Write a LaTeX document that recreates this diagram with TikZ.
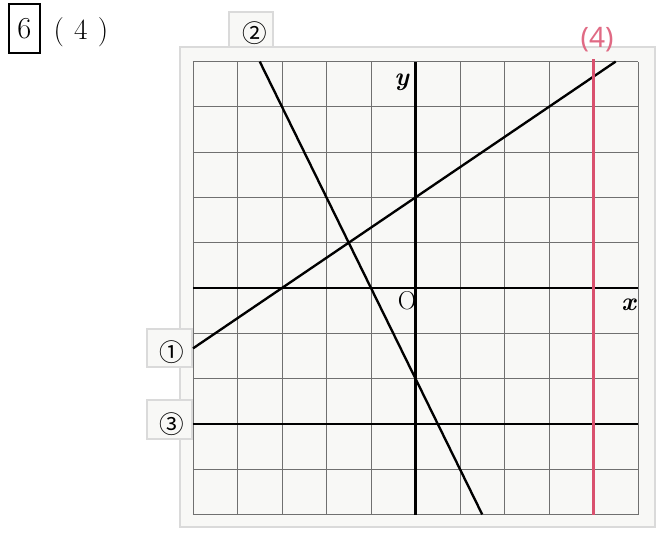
\documentclass[tikz,border=0pt]{standalone}
\usepackage{fontspec}
\newfontfamily\cjkfont{Noto Sans CJK JP}
\newfontfamily\handfont{Noto Sans}
\definecolor{gridline}{HTML}{707070}
\definecolor{framegray}{HTML}{DADADA}
\definecolor{paper}{HTML}{F8F8F6}
\definecolor{penred}{HTML}{D9506E}
\definecolor{penpink}{HTML}{E06A84}
\tikzset{
  gline/.style={draw=gridline, line width=0.7pt},
  axis/.style={draw=black, line width=2.2pt},
  graphline/.style={draw=black, line width=2pt},
  tagbox/.style={draw=framegray, fill=paper, line width=0.9pt},
  tag/.style={font=\cjkfont\fontsize{21}{21}\selectfont, inner sep=0pt},
  axlbl/.style={font=\fontsize{22}{22}\selectfont, inner sep=0pt},
}

\begin{document}
\begin{tikzpicture}[x=1.335cm, y=1.359cm]
  \useasboundingbox (-9.337,6.358) rectangle (5.697,-5.453);

  % Problem number
  \node[draw=black, line width=1.8pt, minimum width=0.93cm, minimum height=1.47cm,
        inner sep=0pt, font=\fontsize{26}{26}\selectfont] (num) at (-8.787,5.729) {6};
  \node[font=\fontsize{25}{25}\selectfont, inner sep=0pt] (part) at (-7.517,5.651)
    {(\hspace{0.35em}4\hspace{0.35em})};

  % Frame and tags
  \draw[tagbox] (-5.292,5.320) rectangle (5.382,-5.276);
  \draw[tagbox] (-4.191,6.093) rectangle (-3.202,5.320);
  \draw[tagbox] (-6.034,-0.905) rectangle (-5.022,-1.744);
  \draw[tagbox] (-6.034,-2.472) rectangle (-5.022,-3.333);
  \node[tag] (tag2) at (-3.607,5.618) {②};
  \node[tag] (tag1) at (-5.472,-1.413) {①};
  \node[tag] (tag3) at (-5.472,-3.0) {③};

  % Grid
  \foreach \i in {-5,...,5} {
    \draw[gline] (\i,-5) -- (\i,5);
    \draw[gline] (-5,\i) -- (5,\i);
  }

  % Axes
  \draw[axis] (-5,0) -- (5,0);
  \draw[axis] (0,-5) -- (0,5);
  \node[axlbl] (xl) at (4.8,-0.37) {\textbf{\textit{x}}};
  \node[axlbl] (yl) at (-0.3,4.55) {\textbf{\textit{y}}};
  \node[axlbl] (orig) at (-0.19,-0.28) {O};

  % Graphs
  \draw[graphline] (-5,-1.333) -- (4.5,5);
  \draw[graphline] (-3.5,5) -- (1.5,-5);
  \draw[graphline] (-5,-3) -- (5,-3);

  % Answer (4)
  \draw[penred, line width=2.4pt] (4,-5) -- (4,5.05);
  \node[text=penpink, font=\handfont\fontsize{24}{24}\selectfont, inner sep=0pt]
    (ans) at (4.08,5.48) {(4)};
\end{tikzpicture}
\end{document}
